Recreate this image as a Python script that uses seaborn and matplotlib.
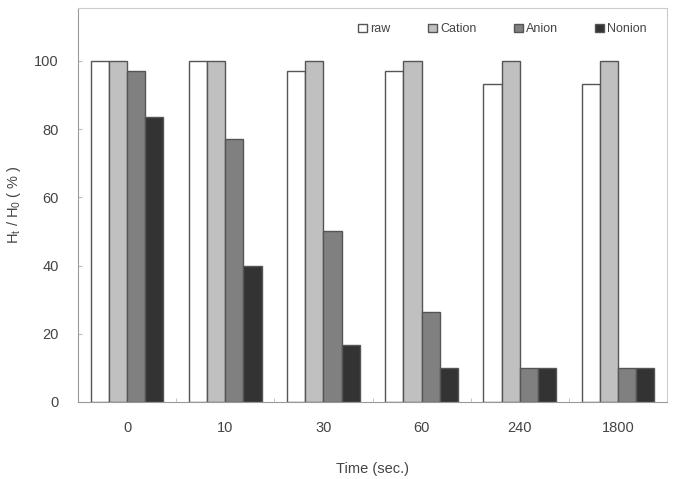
import matplotlib
matplotlib.use("Agg")
import matplotlib.pyplot as plt
import seaborn as sns
import pandas as pd

# datos
tiempos = ["0", "10", "30", "60", "240", "1800"]
series = ["raw", "Cation", "Anion", "Nonion"]
raw = [100, 100, 97, 97, 93.3, 93.3]
cation = [100, 100, 100, 100, 100, 100]
anion = [97, 77, 50, 26.5, 10, 10]
nonion = [83.5, 40, 16.7, 10, 10, 10]
colores = ["#ffffff", "#c0c0c0", "#808080", "#333333"]

filas = []
for nombre, valores in zip(series, [raw, cation, anion, nonion]):
    for t, v in zip(tiempos, valores):
        filas.append({"Time": t, "serie": nombre, "valor": v})
df = pd.DataFrame(filas)

sns.set_style("white")
plt.rcParams["font.family"] = ["Liberation Sans", "DejaVu Sans"]
plt.rcParams["mathtext.default"] = "regular"

fig = plt.figure(figsize=(6.73, 4.79), dpi=100)
ax = fig.add_axes([0.116, 0.161, 0.875, 0.822])

sns.barplot(data=df, x="Time", y="valor", hue="serie", order=tiempos,
            hue_order=series, palette=colores, width=0.74,
            edgecolor="#555555", linewidth=1.0, saturation=1, ax=ax)

ax.set_ylim(0, 115.5)
ax.set_xlim(-0.5, len(tiempos) - 0.5)
ax.set_yticks([0, 20, 40, 60, 80, 100])
ax.set_xticks([i + 0.5 for i in range(len(tiempos) - 1)], minor=True)
ax.tick_params(axis="x", which="major", length=0, labelsize=10.5,
               labelcolor="#444444", pad=14)
ax.tick_params(axis="x", which="minor", direction="in", length=3,
               color="#bbbbbb", bottom=True)
ax.tick_params(axis="y", direction="in", length=3, color="#bbbbbb",
               labelsize=10.5, labelcolor="#444444", pad=14, left=True)

for lado in ["left", "bottom"]:
    ax.spines[lado].set_color("#999999")
for lado in ["top", "right"]:
    ax.spines[lado].set_color("#cccccc")

ax.set_xlabel("Time (sec.)", fontsize=10.5, color="#444444", labelpad=19)
ax.set_ylabel("H$_t$ / H$_0$ ( % )", fontsize=10.5, color="#444444",
              labelpad=8)

ax.legend(ncol=4, loc="upper right", bbox_to_anchor=(0.985, 0.99),
          frameon=False, fontsize=9, handlelength=0.7, handleheight=0.7,
          handletextpad=0.25, columnspacing=3.0, labelcolor="#444444")

plt.savefig("out.png", dpi=100)
